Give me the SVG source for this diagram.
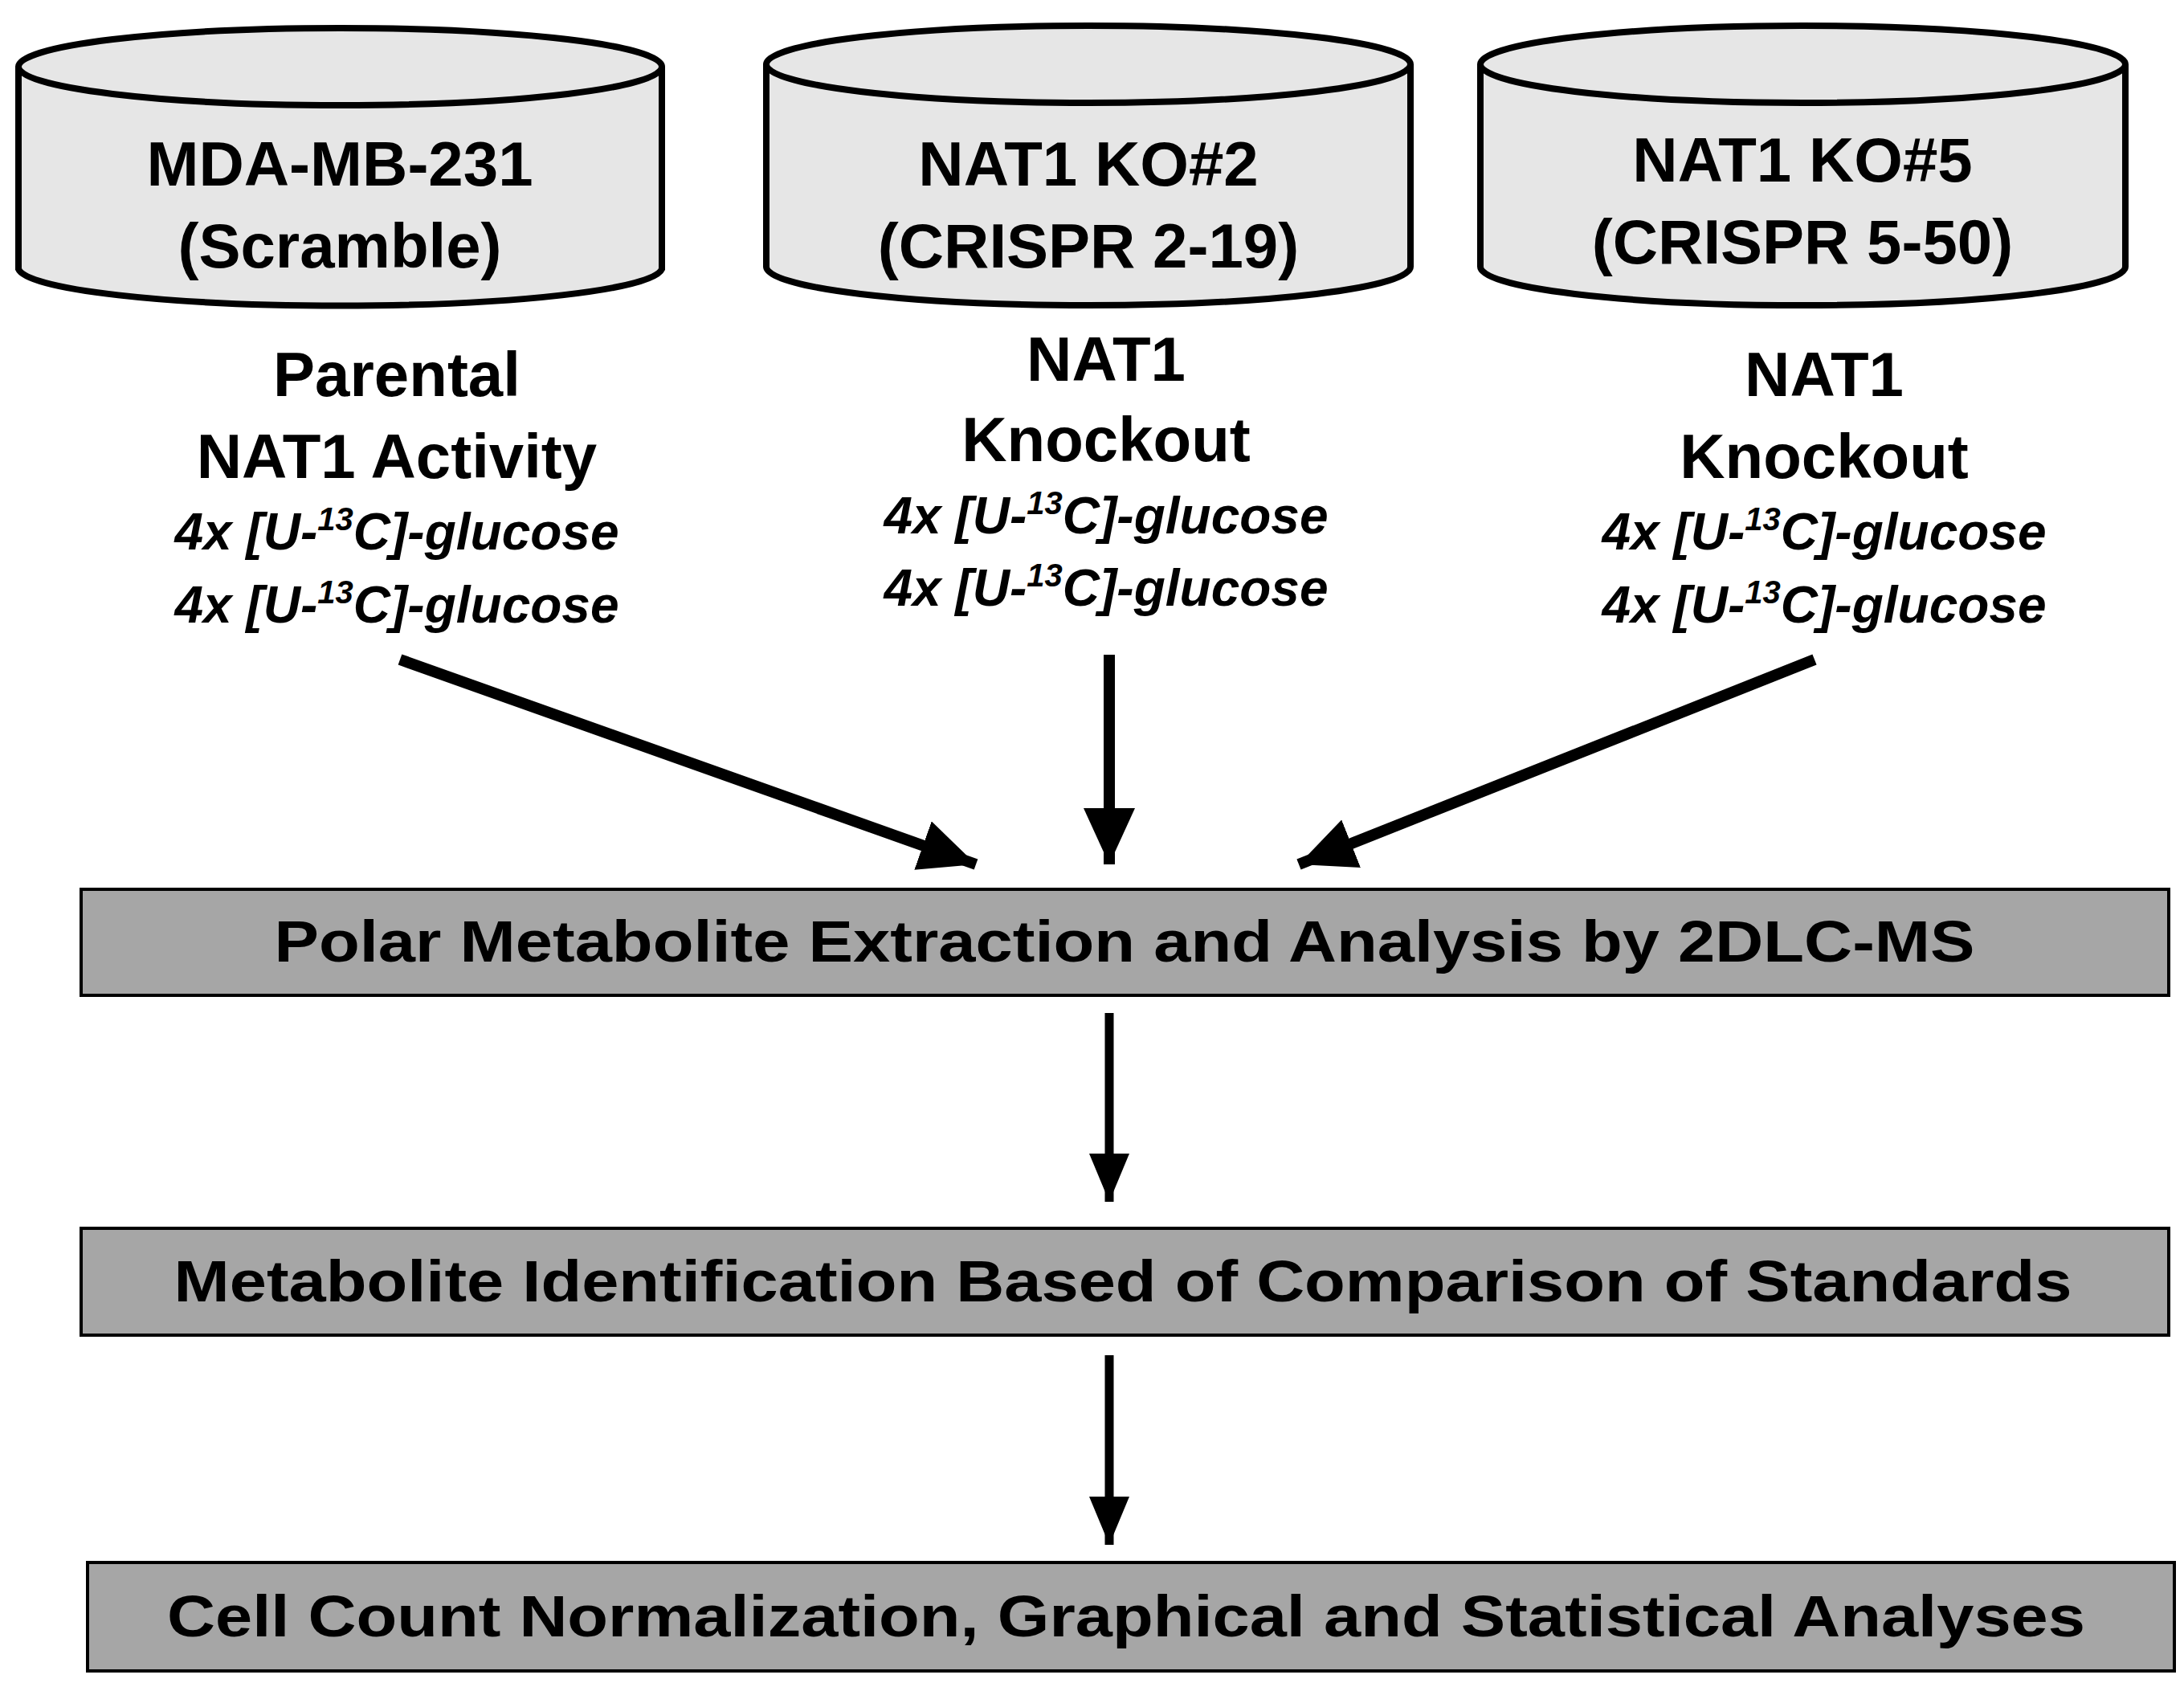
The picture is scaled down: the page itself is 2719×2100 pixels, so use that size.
<svg xmlns="http://www.w3.org/2000/svg" width="2719" height="2100" viewBox="0 0 2719 2100">
<style>
.cyl{fill:#e6e6e6;stroke:#000;stroke-width:8}
.t{font-family:"Liberation Sans",Arial,sans-serif;font-weight:bold;fill:#000;text-anchor:middle}
.big{font-size:78px}
.it{font-size:64px;font-style:italic}
.sup{font-size:40px}
.box{fill:#a6a6a6;stroke:#000;stroke-width:4}
.bt{font-size:72px}
.ar{stroke:#000;fill:none}
</style>
<defs>
<marker id="ah" markerUnits="userSpaceOnUse" markerWidth="80" markerHeight="70" refX="70" refY="32" orient="auto"><path d="M0,0 L70,32 L0,64 Z" fill="#000"/></marker>
<marker id="ah2" markerUnits="userSpaceOnUse" markerWidth="50" markerHeight="70" refX="60" refY="25" orient="auto"><path d="M0,0 L60,25 L0,50 Z" fill="#000"/></marker>
</defs>
<rect width="2719" height="2100" fill="#fff"/>
<g id="cyl1">
<path class="cyl" d="M23,83 L23,335 A401,48 0 0 0 824,335 L824,83"/>
<ellipse class="cyl" cx="423.5" cy="83" rx="400.5" ry="48"/>
<text class="t big" x="423" y="231">MDA-MB-231</text>
<text class="t big" x="423" y="333">(Scramble)</text>
</g>
<g id="cyl2">
<path class="cyl" d="M954,80 L954,332 A401,48 0 0 0 1756,332 L1756,80"/>
<ellipse class="cyl" cx="1355" cy="80" rx="401" ry="48"/>
<text class="t big" x="1355" y="231">NAT1 KO#2</text>
<text class="t big" x="1355" y="333">(CRISPR 2-19)</text>
</g>
<g id="cyl3">
<path class="cyl" d="M1843,80 L1843,332 A401,48 0 0 0 2646,332 L2646,80"/>
<ellipse class="cyl" cx="2244.5" cy="80" rx="401.5" ry="48"/>
<text class="t big" x="2244" y="226">NAT1 KO#5</text>
<text class="t big" x="2244" y="328">(CRISPR 5-50)</text>
</g>
<g id="label1">
<text class="t big" x="494" y="493">Parental</text>
<text class="t big" x="494" y="595">NAT1 Activity</text>
<text class="t it" x="494" y="684">4x [U-<tspan class="sup" dy="-24">13</tspan><tspan dy="24">C]-glucose</tspan></text>
<text class="t it" x="494" y="775">4x [U-<tspan class="sup" dy="-24">13</tspan><tspan dy="24">C]-glucose</tspan></text>
</g>
<g id="label2">
<text class="t big" x="1377" y="474">NAT1</text>
<text class="t big" x="1377" y="574">Knockout</text>
<text class="t it" x="1377" y="664">4x [U-<tspan class="sup" dy="-24">13</tspan><tspan dy="24">C]-glucose</tspan></text>
<text class="t it" x="1377" y="754">4x [U-<tspan class="sup" dy="-24">13</tspan><tspan dy="24">C]-glucose</tspan></text>
</g>
<g id="label3">
<text class="t big" x="2271" y="493">NAT1</text>
<text class="t big" x="2271" y="595">Knockout</text>
<text class="t it" x="2271" y="684">4x [U-<tspan class="sup" dy="-24">13</tspan><tspan dy="24">C]-glucose</tspan></text>
<text class="t it" x="2271" y="775">4x [U-<tspan class="sup" dy="-24">13</tspan><tspan dy="24">C]-glucose</tspan></text>
</g>
<g id="box1">
<rect class="box" x="101" y="1107" width="2599" height="132"/>
<text class="t bt" x="1400" y="1197" textLength="2117" lengthAdjust="spacingAndGlyphs">Polar Metabolite Extraction and Analysis by 2DLC-MS</text>
</g>
<g id="box2">
<rect class="box" x="101" y="1529" width="2599" height="133"/>
<text class="t bt" x="1398" y="1620" textLength="2363" lengthAdjust="spacingAndGlyphs">Metabolite Identification Based of Comparison of Standards</text>
</g>
<g id="box3">
<rect class="box" x="109" y="1945" width="2598" height="135"/>
<text class="t bt" x="1402" y="2037" textLength="2388" lengthAdjust="spacingAndGlyphs">Cell Count Normalization, Graphical and Statistical Analyses</text>
</g>
<g id="connectors">
<line class="ar" stroke-width="14" x1="498" y1="821" x2="1215" y2="1076" marker-end="url(#ah)"/>
<line class="ar" stroke-width="14" x1="1381" y1="815" x2="1381" y2="1076" marker-end="url(#ah)"/>
<line class="ar" stroke-width="14" x1="2259" y1="821" x2="1617" y2="1076" marker-end="url(#ah)"/>
<line class="ar" stroke-width="11" x1="1381" y1="1261" x2="1381" y2="1496" marker-end="url(#ah2)"/>
<line class="ar" stroke-width="11" x1="1381" y1="1687" x2="1381" y2="1923" marker-end="url(#ah2)"/>
</g>
</svg>
